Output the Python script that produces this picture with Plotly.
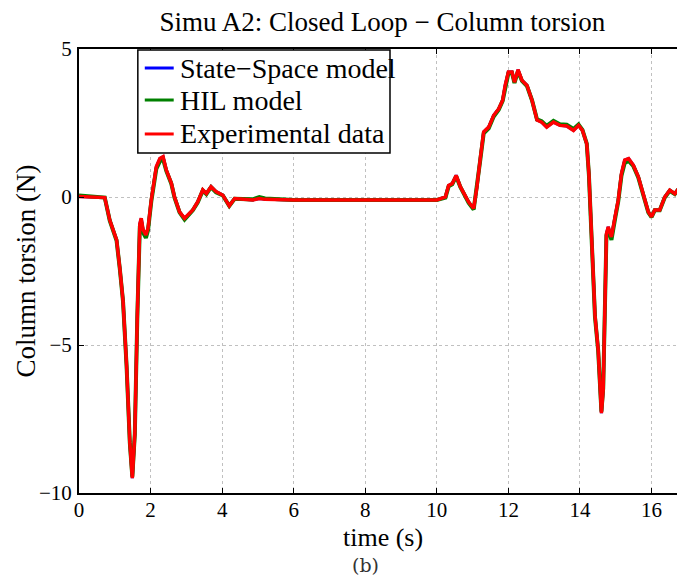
import plotly.graph_objects as go

# values
t = [0, 0.3, 0.72, 0.86, 1.05, 1.14, 1.23, 1.33, 1.42, 1.49, 1.56, 1.63, 1.70, 1.74, 1.79,
     1.87, 1.93, 2.02, 2.16, 2.26, 2.35, 2.44, 2.58, 2.67, 2.81, 2.95, 3.05, 3.18, 3.32,
     3.46, 3.56, 3.69, 3.83, 4.02, 4.20, 4.35, 4.86, 5.04, 5.20, 6.0, 8.0, 10.0, 10.24,
     10.33, 10.43, 10.54, 10.66, 10.80, 10.89, 11.03, 11.12, 11.22, 11.31, 11.45, 11.59,
     11.73, 11.84, 11.91, 12.0, 12.1, 12.17, 12.27, 12.38, 12.52, 12.66, 12.80, 12.93,
     13.07, 13.26, 13.44, 13.63, 13.82, 13.96, 14.07, 14.19, 14.25, 14.33, 14.42, 14.51,
     14.56, 14.60, 14.65, 14.70, 14.74, 14.79, 14.88, 14.98, 15.07, 15.16, 15.25, 15.36,
     15.49, 15.63, 15.77, 15.91, 16.0, 16.09, 16.23, 16.37, 16.51, 16.65, 16.79, 16.88]

experimental = [0.02, 0.0, -0.02, -0.78, -1.45, -2.4, -3.5, -5.7, -8.3, -9.5, -8.0, -4.0,
                -0.9, -0.72, -1.1, -1.28, -1.05, -0.1, 1.02, 1.3, 1.36, 0.91, 0.47, 0.0,
                -0.5, -0.72, -0.6, -0.44, -0.16, 0.24, 0.12, 0.35, 0.18, 0.06, -0.3, -0.05,
                -0.1, -0.05, -0.08, -0.1, -0.1, -0.1, 0.0, 0.39, 0.45, 0.73, 0.34, 0.0,
                -0.17, -0.39, 0.34, 1.35, 2.2, 2.36, 2.76, 2.98, 3.27, 3.77, 4.22, 4.22,
                3.88, 4.3, 3.94, 3.77, 3.27, 2.6, 2.53, 2.36, 2.53, 2.42, 2.4, 2.25, 2.42,
                2.25, 1.8, 0.79, -1.46, -4.0, -5.17, -6.3, -7.3, -6.5, -3.48, -1.24, -1.01,
                -1.35, -0.68, -0.11, 0.79, 1.25, 1.3, 1.08, 0.69, 0.11, -0.5, -0.67, -0.44,
                -0.44, 0.0, 0.23, 0.11, 0.34, 0.3]

hil_model = [0.05, 0.02, -0.02, -0.8, -1.47, -2.42, -3.52, -5.72, -8.3, -9.45, -8.0, -4.05,
             -1.0, -0.85, -1.2, -1.38, -1.12, -0.15, 0.95, 1.2, 1.28, 0.88, 0.45, -0.02,
             -0.52, -0.76, -0.63, -0.45, -0.18, 0.22, 0.1, 0.33, 0.16, 0.05, -0.3, -0.06,
             -0.08, 0.0, -0.05, -0.1, -0.1, -0.1, -0.02, 0.36, 0.43, 0.7, 0.33, -0.02,
             -0.2, -0.42, 0.3, 1.3, 2.15, 2.32, 2.72, 2.95, 3.25, 3.72, 4.18, 4.2, 3.85,
             4.25, 3.92, 3.75, 3.27, 2.62, 2.56, 2.4, 2.57, 2.46, 2.44, 2.3, 2.45, 2.27,
             1.8, 0.76, -1.5, -4.05, -5.2, -6.3, -7.25, -6.45, -3.5, -1.3, -1.1, -1.45,
             -0.75, -0.15, 0.72, 1.15, 1.22, 1.05, 0.66, 0.09, -0.52, -0.68, -0.45, -0.45,
             -0.02, 0.21, 0.1, 0.32, 0.29]

state_space = [0.02, 0.0, -0.02, -0.78, -1.45, -2.4, -3.5, -5.7, -8.3, -9.5, -8.0, -4.0,
               -0.9, -0.72, -1.1, -1.28, -1.05, -0.1, 1.02, 1.3, 1.36, 0.91, 0.47, 0.0,
               -0.5, -0.72, -0.6, -0.44, -0.16, 0.24, 0.12, 0.35, 0.18, 0.06, -0.3, -0.05,
               -0.1, -0.05, -0.08, -0.1, -0.1, -0.1, 0.0, 0.39, 0.45, 0.73, 0.34, 0.0,
               -0.17, -0.39, 0.34, 1.35, 2.2, 2.36, 2.76, 2.98, 3.27, 3.77, 4.22, 4.22,
               3.88, 4.3, 3.94, 3.77, 3.27, 2.6, 2.53, 2.36, 2.53, 2.42, 2.4, 2.25, 2.42,
               2.25, 1.8, 0.79, -1.46, -4.0, -5.17, -6.3, -7.3, -6.5, -3.48, -1.24, -1.01,
               -1.35, -0.68, -0.11, 0.79, 1.25, 1.3, 1.08, 0.69, 0.11, -0.5, -0.67, -0.44,
               -0.44, 0.0, 0.23, 0.11, 0.34, 0.3]

series_names = ["State\u2212Space model", "HIL model", "Experimental data"]
series_colors = ["#0000ff", "#008000", "#ff0000"]
x_ticks = [0, 2, 4, 6, 8, 10, 12, 14, 16]
y_ticks = [-10, -5, 0, 5]

serif = "Liberation Serif, Times New Roman, serif"

fig = go.Figure()
for name, ys, col, w in zip(series_names, [state_space, hil_model, experimental],
                            series_colors, [3, 4, 3.5]):
    fig.add_trace(go.Scatter(x=t, y=ys, mode="lines", name=name,
                             line=dict(color=col, width=w), showlegend=False))

axis_style = dict(showline=True, linecolor="black", linewidth=2, mirror="ticks",
                  ticks="inside", ticklen=5, tickcolor="black",
                  showgrid=True, gridcolor="#c0c0c0", griddash="dot", gridwidth=1,
                  zeroline=False, tickfont=dict(size=21, color="black", family=serif))

fig.update_xaxes(range=[0, 16.88], tickvals=x_ticks, ticklabelstandoff=-3, **axis_style)
fig.update_yaxes(range=[-10, 5], tickvals=y_ticks, ticklabelstandoff=1, **axis_style)

# the page adds an 8px body margin, so the figure is sized/shifted to match
fig.update_layout(
    width=677, height=573,
    margin=dict(l=71, r=0, t=41, b=88),
    plot_bgcolor="white", paper_bgcolor="white",
    font=dict(family=serif, color="black"),
    title=dict(text="Simu A2: Closed Loop \u2212 Column torsion", x=0.553, xanchor="center",
               y=0.977, yanchor="middle", font=dict(size=27, family=serif, color="black")),
    showlegend=False,
)

# legend box drawn MATLAB-style (compact rows)
fig.add_shape(type="rect", xref="paper", yref="paper", x0=0.0974, x1=0.5149,
              y0=0.7658, y1=0.9977, line=dict(color="black", width=1.5), fillcolor="white",
              layer="above")
row_y = [0.9572, 0.8851, 0.8086]
for name, col, ry in zip(series_names, series_colors, row_y):
    fig.add_shape(type="line", xref="paper", yref="paper", x0=0.1089, x1=0.1568,
                  y0=ry, y1=ry, line=dict(color=col, width=3), layer="above")
    fig.add_annotation(text=name, xref="paper", yref="paper", x=0.1634, y=ry,
                       xanchor="left", yanchor="middle", showarrow=False,
                       font=dict(size=28, family=serif, color="black"))

fig.add_annotation(text="time (s)", xref="paper", yref="paper", x=0.504, y=-0.1,
                   showarrow=False, xanchor="center", yanchor="middle",
                   font=dict(size=26, family=serif, color="black"))
fig.add_annotation(text="Column torsion (N)", xref="paper", yref="paper", x=-0.0875, y=0.499,
                   textangle=-90, showarrow=False, xanchor="center", yanchor="middle",
                   font=dict(size=27, family=serif, color="black"))
fig.add_annotation(text="(b)", xref="paper", yref="paper", x=0.4736, y=-0.162,
                   showarrow=False, font=dict(size=19, family="DejaVu Serif, serif", color="#333333"),
                   xanchor="center", yanchor="middle")

fig.write_html("out.html")
